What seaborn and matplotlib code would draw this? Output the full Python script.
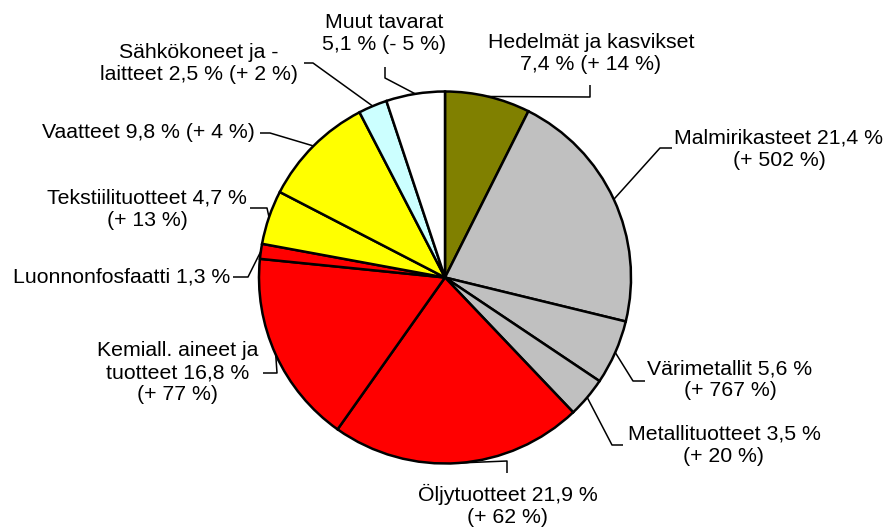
import numpy as np
import matplotlib
matplotlib.use("Agg")
import matplotlib.pyplot as plt
import seaborn as sns

# data
names = ["Hedelmät ja kasvikset", "Malmirikasteet", "Värimetallit", "Metallituotteet",
         "Öljytuotteet", "Kemiall. aineet ja\ntuotteet", "Luonnonfosfaatti",
         "Tekstiilituotteet", "Vaatteet", "Sähkökoneet ja -\nlaitteet", "Muut tavarat"]
shares = [7.4, 21.4, 5.6, 3.5, 21.9, 16.8, 1.3, 4.7, 9.8, 2.5, 5.1]
changes = ["+ 14", "+ 502", "+ 767", "+ 20", "+ 62", "+ 77", None, "+ 13", "+ 4", "+ 2", "- 5"]
colors = ["#808000", "#C0C0C0", "#C0C0C0", "#C0C0C0", "#FF0000", "#FF0000", "#FF0000",
          "#FFFF00", "#FFFF00", "#CCFFFF", "#FFFFFF"]
# how each label is broken into lines
templates = ["{n}\n{s} % ({c} %)", "{n} {s} %\n({c} %)", "{n} {s} %\n({c} %)",
             "{n} {s} %\n({c} %)", "{n} {s} %\n({c} %)", "{n} {s} %\n({c} %)",
             "{n} {s} %", "{n} {s} %\n({c} %)", "{n} {s} % ({c} %)",
             "{n} {s} % ({c} %)", "{n}\n{s} % ({c} %)"]

# label layout in pixels (text centre, leader elbow, leader end)
text_pos = [(591, 53), (779, 149), (730, 380), (724, 445), (508, 505), (178, 373),
            (122, 277), (147, 209), (148, 133), (199, 64), (384, 33)]
elbows = [(590, 97), (660, 148), (633, 381), (612, 445), (507, 461), (277, 373),
          (248, 277), (267, 208), (270, 133), (313, 63), (385, 78)]
ends = [(590, 85), (672, 148), (645, 381), (623, 445), (507, 473), (263, 373),
        (233, 277), (250, 208), (260, 133), (304, 63), (385, 67)]

W, H = 886, 528

sns.set_theme(style="white")
plt.rcParams["font.family"] = ["Liberation Sans", "DejaVu Sans"]

fig = plt.figure(figsize=(W / 100, H / 100), dpi=100)
ax = fig.add_axes([0, 0, 1, 1])

wedges, _ = ax.pie(shares, colors=colors, startangle=90, counterclock=False,
                   center=(445, H - 277.5), radius=186, frame=True,
                   wedgeprops=dict(edgecolor="black", linewidth=1.8))
ax.set_xlim(0, W)
ax.set_ylim(0, H)
ax.axis("off")


def fmt(v):
    return f"{v:.1f}".replace(".", ",")


for w, n, s, c, t, tp, el, en in zip(wedges, names, shares, changes, templates,
                                     text_pos, elbows, ends):
    mid = np.deg2rad((w.theta1 + w.theta2) / 2)
    ax0 = w.center[0] + w.r * np.cos(mid)
    ay0 = w.center[1] + w.r * np.sin(mid)
    xs = [ax0, el[0], en[0]]
    ys = [ay0, H - el[1], H - en[1]]
    ax.plot(xs, ys, color="black", lw=1.1, solid_capstyle="butt")
    label = t.format(n=n, s=fmt(s), c=c)
    ax.text(tp[0], H - tp[1], label, ha="center", va="center", multialignment="center",
            fontsize=15.3, color="black", linespacing=1.2)

fig.savefig("out.png", dpi=100)
